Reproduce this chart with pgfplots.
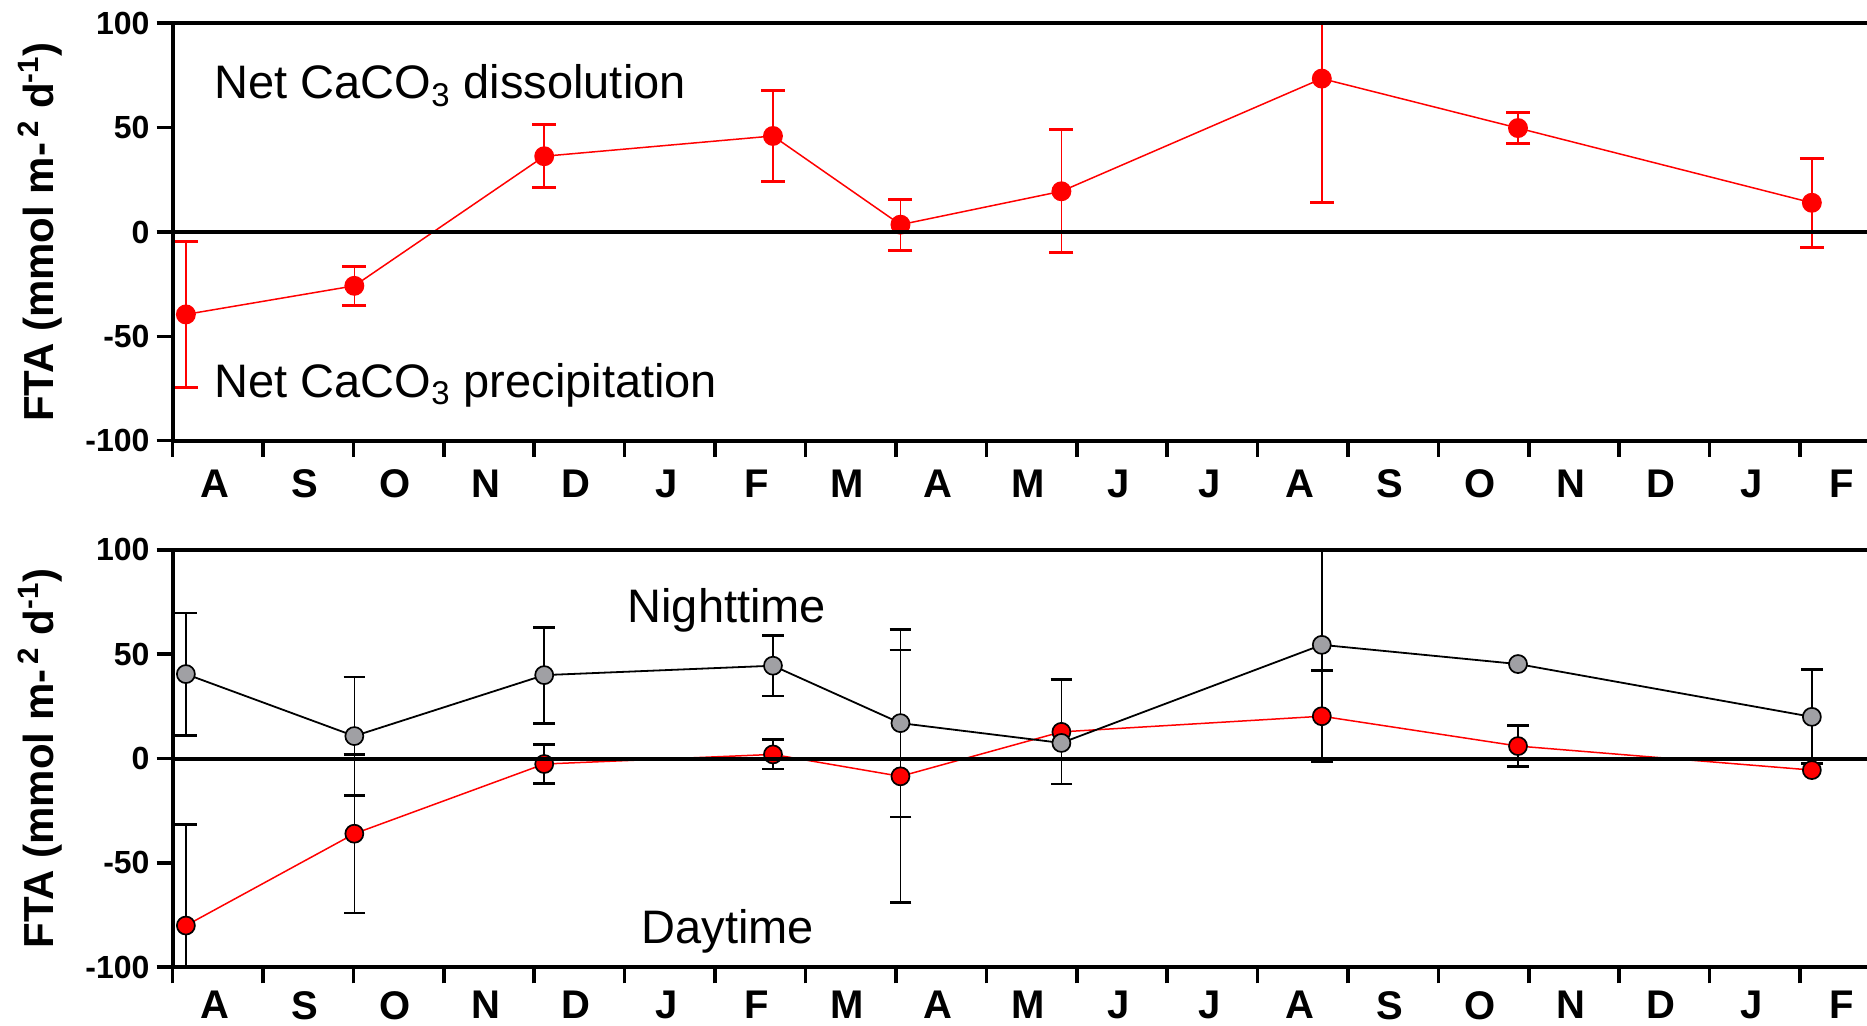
\documentclass[border=0pt]{standalone}
\usepackage{fontspec}
\setmainfont{Liberation Sans}
\usepackage{pgfplots}
\pgfplotsset{compat=1.18}
\usepackage{pgfplotstable}

\definecolor{ngray}{RGB}{160,160,164}

% top panel: net FTA
\pgfplotstableread{
x y e
0.147 -39.5 35
2.01 -25.8 9.2
4.11 36.3 15.2
6.64 46 22
8.05 3.5 12.3
9.83 19.5 29.5
12.71 73.5 59.6
14.88 49.8 7.6
18.13 14 21.4
}\fta

% bottom panel: nighttime
\pgfplotstableread{
x y
0.147 40.5
2.01 10.8
4.11 40
6.64 44.5
8.05 17
9.83 7.5
12.71 54.5
14.88 45.3
18.13 20
}\night
\pgfplotstableread{
x y e
0.147 40.5 29.3
2.01 10.8 28.3
4.11 40 23
6.64 44.5 14.5
8.05 17 45
12.71 54.5 56
18.13 20 22.5
}\nighterr

% bottom panel: daytime
\pgfplotstableread{
x y
0.147 -80
2.01 -36
4.11 -2.6
6.64 2
8.05 -8.5
9.83 12.8
12.71 20.3
14.88 6
18.13 -5.5
}\day
\pgfplotstableread{
x y e
0.147 -80 48.3
2.01 -36 38
4.11 -2.6 9.5
6.64 2 7
8.05 -8.5 60.5
9.83 12.8 25
12.71 20.3 21.8
14.88 6 9.8
}\dayerr

\pgfplotsset{
  panel/.style={
    scale only axis, width=847.2pt, height=208.7pt,
    xmin=0, xmax=18.74, ymin=-100, ymax=100,
    axis line style={draw=none},
    xtick={0,...,18},
    xticklabels={A,S,O,N,D,J,F,M,A,M,J,J,A,S,O,N,D,J,F},
    ytick={-100,-50,0,50,100},
    yticklabels={-100,-50,0,50,100},
    xtick pos=left, ytick pos=left, tick align=outside,
    major tick length=8pt,
    tick style={line width=1.8pt, black},
    xticklabel style={font=\bfseries\fontsize{20}{20}\selectfont, xshift=21pt},
    yticklabel style={font=\bfseries\fontsize{16}{16}\selectfont},
    ylabel={FTA (mmol m-\textsuperscript{\,2} d\textsuperscript{-1})},
    ylabel style={font=\bfseries\fontsize{21}{21}\selectfont,
      at={(axis description cs:-0.0783,0.5)}, anchor=center},
    after end axis/.code={
      \draw[line width=2pt, line cap=rect] (rel axis cs:0,0) -- (rel axis cs:0,1) -- (rel axis cs:1,1);
      \draw[line width=2pt, line cap=rect] (rel axis cs:0,0) -- (rel axis cs:1,0);
      \draw[line width=2pt] (axis cs:0,0) -- (axis cs:18.74,0);
    },
  },
}

\begin{document}
\begin{tikzpicture}
\useasboundingbox (0,0) rectangle (933.5pt,513pt);

% ---------------- top panel ----------------
\begin{axis}[panel, at={(86.3pt,292.65pt)}, anchor=south west,
  xticklabel style={yshift=-3pt}]
\addplot[red, line width=0.75pt, mark=*, mark size=4.6pt,
  mark options={fill=red, draw=red},
  error bars/.cd, y dir=both, y explicit,
  error bar style={line width=0.75pt, red},
  error mark options={rotate=90, mark size=6pt, line width=1.5pt, red}]
  table[x=x, y=y, y error=e] {\fta};
\node[anchor=base west, inner sep=0pt, font=\fontsize{23.5}{24}\selectfont]
  at (axis cs:0.46,63.9) {Net CaCO\textsubscript{3} dissolution};
\node[anchor=base west, inner sep=0pt, font=\fontsize{23.5}{24}\selectfont]
  at (axis cs:0.46,-79.1) {Net CaCO\textsubscript{3} precipitation};
\end{axis}

% ---------------- bottom panel ----------------
\begin{axis}[panel, at={(86.3pt,29.35pt)}, anchor=south west,
  xticklabel style={yshift=-0.5pt}]
% daytime error bars
\addplot[only marks, mark=none, black, forget plot,
  error bars/.cd, y dir=both, y explicit,
  error bar style={line width=0.75pt, black},
  error mark options={rotate=90, mark size=5.4pt, line width=1.4pt, black}]
  table[x=x, y=y, y error=e] {\dayerr};
% daytime line
\addplot[red, line width=0.75pt, mark=*, mark size=4.5pt,
  mark options={fill=red, draw=black, line width=0.85pt}]
  table[x=x, y=y] {\day};
% nighttime error bars
\addplot[only marks, mark=none, black, forget plot,
  error bars/.cd, y dir=both, y explicit,
  error bar style={line width=0.75pt, black},
  error mark options={rotate=90, mark size=5.4pt, line width=1.4pt, black}]
  table[x=x, y=y, y error=e] {\nighterr};
% nighttime line
\addplot[black, line width=0.9pt, mark=*, mark size=4.5pt,
  mark options={fill=ngray, draw=black, line width=0.85pt}]
  table[x=x, y=y] {\night};
\node[anchor=base, inner sep=0pt, font=\fontsize{23.5}{24}\selectfont]
  at (axis cs:6.13,65.2) {Nighttime};
\node[anchor=base, inner sep=0pt, font=\fontsize{23.5}{24}\selectfont]
  at (axis cs:6.14,-88.5) {Daytime};
\end{axis}
\end{tikzpicture}
\end{document}
